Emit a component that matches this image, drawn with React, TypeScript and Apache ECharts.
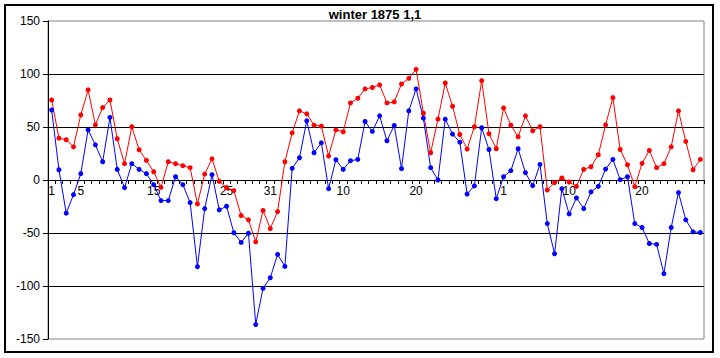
import React, { useEffect, useRef } from 'react';
import * as echarts from 'echarts';

const chartTitle = 'winter 1875 1,1';
const monthLengths = [31, 31, 28];
const categories: string[] = monthLengths.flatMap((n) => Array.from({ length: n }, (_, d) => String(d + 1)));
const shownLabelIndices = [0, 4, 14, 24, 30, 40, 50, 62, 71, 81];

const redSeries = [
  75.5, 39.5, 38, 31.3, 61.4, 85, 52, 68.3, 75.5, 38.9,
  15.4, 50.2, 28.5, 18.5, 7.8, -6.9, 17.2, 15.4, 13.5, 11.6,
  -22.6, 5.6, 20, -1.3, -7.2, -10, -33.5, -37.6, -58.3, -28.8,
  -45.8, -29.8, 17.2, 44.5, 65.2, 62.4, 51.7, 50.8, 22.6, 47.3,
  45.5, 72.7, 77.1, 85.9, 87.3, 89.7, 72.7, 73.7, 90.6, 95.9,
  104.4, 63, 25.7, 57.4, 91.5, 69.6, 42.9, 29.2, 50.2, 93.7,
  43.6, 29.5, 68, 51.7, 40.8, 60.5, 46.4, 50.2, -9.4, -2.5,
  1.9, -1.9, -6, 10, 12.5, 23.8, 52, 77.7, 28.8, 14.4,
  -6.3, 15.7, 27.9, 11.6, 15.4, 31.3, 65.2, 36.4, 9.7, 19.4,
];

const blueSeries = [
  66, 9.7, -31.3, -13.8, 6, 47.3, 33.2, 17.2, 59, 10,
  -7.2, 15.4, 10, 6, -4.4, -19.4, -19.4, 3.1, -4.4, -21.3,
  -81.8, -27, 5, -28.2, -24.8, -49.8, -58.9, -50.2, -136.4, -102.2,
  -92.2, -70.2, -81.5, 11, 21, 55.8, 25.7, 35.1, -8.2, 19.1,
  10, 18.2, 19.4, 55.2, 45.8, 60.5, 37, 51.4, 10.7, 65.2,
  85.9, 58.3, 11.6, 0, 57.4, 43.3, 35.7, -13.2, -5.6, 49.3,
  28.8, -17.6, 3.1, 8.8, 29.5, 6.9, -5.3, 14.7, -41.1, -69.6,
  -8.2, -32, -16.9, -27, -11.2, -6, 10.3, 19.4, 0.3, 3.1,
  -41.1, -44.8, -59.9, -60.8, -88.4, -44.8, -11.9, -37.6, -48.9, -49.5,
];

const yMin = -150;
const yMax = 150;
const yInterval = 50;

const FONT = '"Liberation Sans", Arial, sans-serif';
const GRID_TOP = 21;
const GRID_BOTTOM = 19;
const CHART_H = 358;

export default function App() {
  const ref = useRef<HTMLDivElement>(null);
  useEffect(() => {
    if (!ref.current) return;
    const chart = echarts.init(ref.current, null, { renderer: 'svg' });
    const plotH = CHART_H - GRID_TOP - GRID_BOTTOM;
    // distance from the grid's bottom edge up to the zero value line
    const zeroOffset = (plotH * (0 - yMin)) / (yMax - yMin);
    chart.setOption({
      animation: false,
      backgroundColor: '#ffffff',
      grid: {
        left: 48,
        top: GRID_TOP,
        right: 16,
        bottom: GRID_BOTTOM,
        show: true,
        backgroundColor: '#ffffff',
        borderColor: '#808080',
        borderWidth: 1,
      },
      graphic: [
        {
          type: 'rect',
          silent: true,
          z: 100,
          shape: { x: 5, y: 5, width: 708, height: 347 },
          style: { fill: 'none', stroke: '#000000', lineWidth: 2 },
        },
        {
          type: 'text',
          silent: true,
          x: 375,
          y: 14,
          style: {
            text: chartTitle,
            font: `bold 13px ${FONT}`,
            fill: '#000000',
            textAlign: 'center',
            textVerticalAlign: 'middle',
          },
        },
      ],
      xAxis: {
        type: 'category',
        data: categories,
        boundaryGap: true,
        position: 'bottom',
        offset: -zeroOffset,
        axisLine: { onZero: false, lineStyle: { color: '#000000', width: 1 } },
        axisTick: { show: true, interval: 0, inside: false, length: 4, lineStyle: { color: '#000000' } },
        axisLabel: {
          interval: (index: number) => shownLabelIndices.includes(index),
          color: '#000000',
          fontFamily: FONT,
          fontSize: 12,
          margin: 5,
        },
        splitLine: { show: false },
      },
      yAxis: {
        type: 'value',
        min: yMin,
        max: yMax,
        interval: yInterval,
        axisLine: { show: true, lineStyle: { color: '#000000', width: 1 } },
        axisTick: { show: true, length: 5, lineStyle: { color: '#000000' } },
        axisLabel: { color: '#000000', fontFamily: FONT, fontSize: 12, margin: 8 },
        splitLine: {
          show: true,
          showMinLine: false,
          showMaxLine: false,
          lineStyle: { color: '#000000', width: 1 },
        },
      },
      series: [
        {
          type: 'line',
          data: redSeries,
          symbol: 'circle',
          symbolSize: 5,
          showAllSymbol: true,
          lineStyle: { color: '#ff0000', width: 1 },
          itemStyle: { color: '#ff0000' },
        },
        {
          type: 'line',
          data: blueSeries,
          symbol: 'circle',
          symbolSize: 5,
          showAllSymbol: true,
          lineStyle: { color: '#0000ff', width: 1 },
          itemStyle: { color: '#0000ff' },
        },
      ],
    });
    return () => chart.dispose();
  }, []);
  return (
    <div
      ref={ref}
      style={{ position: 'absolute', left: 0, top: 0, width: 720, height: 358 }}
    />
  );
}
